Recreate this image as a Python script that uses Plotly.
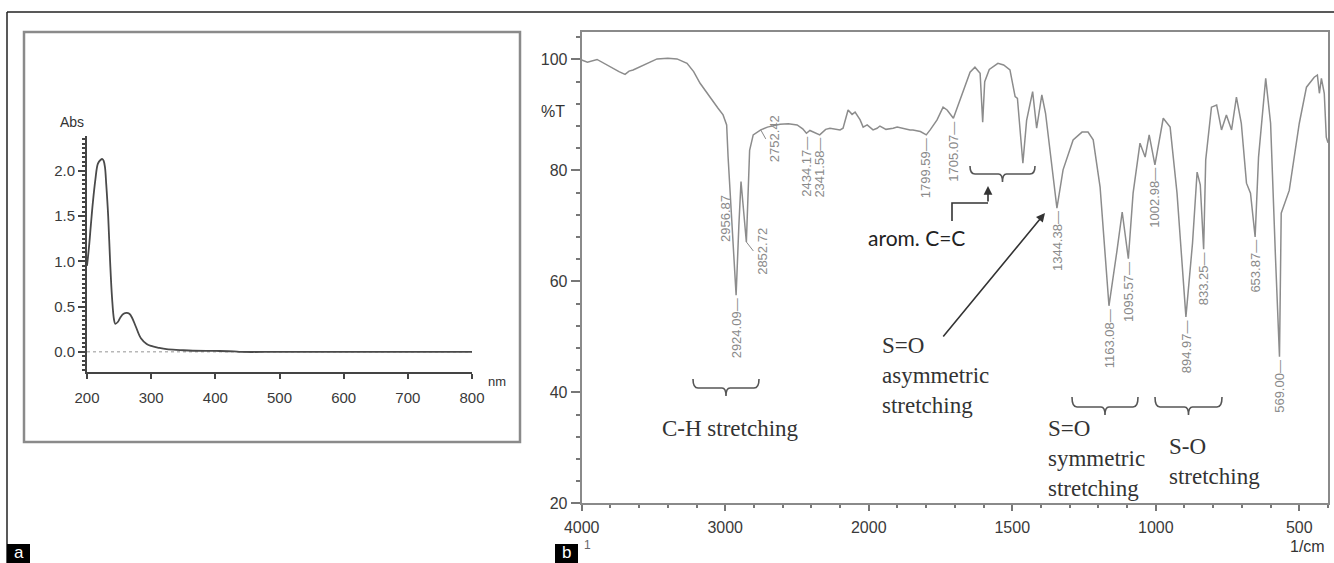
import numpy as np
import plotly.graph_objects as go

W, H = 1334, 563

# ---------------- UV-Vis spectrum (panel a) ----------------
uv_nm = [200, 203, 206, 209, 213, 217, 221, 224, 226, 228, 230, 233, 236, 239, 242,
         244, 248, 252, 257, 262, 266, 270, 276, 284, 293, 300, 312, 324, 345,
         365, 400, 429, 440, 500, 600, 700, 800]
uv_abs = [0.95, 1.15, 1.40, 1.64, 1.90, 2.08, 2.12, 2.13, 2.11, 2.04, 1.85, 1.50, 1.00, 0.60, 0.36,
          0.31, 0.33, 0.38, 0.42, 0.43, 0.42, 0.38, 0.28, 0.15, 0.087, 0.065, 0.045, 0.03, 0.02,
          0.012, 0.01, 0.006, 0.0, 0.0, 0.0, 0.0, 0.0]

# ---------------- FT-IR spectrum (panel b) ----------------
ir_wn = [4000, 3960, 3893, 3840, 3782, 3740, 3698, 3670, 3642, 3600, 3545, 3475, 3400, 3336,
         3266, 3220, 3175, 3130, 3085, 3050, 3015, 2990, 2980, 2966, 2956.87, 2945, 2924.09,
         2905, 2890, 2852.72, 2838, 2830, 2805, 2778, 2752.42, 2706, 2618, 2560, 2499, 2460,
         2434.17, 2410, 2388, 2341.58, 2300, 2270, 2200, 2179, 2144, 2116, 2095, 2060, 2039,
         2011, 1985, 1971, 1961, 1940, 1915, 1901, 1856, 1846, 1820, 1799.59, 1786, 1762, 1741,
         1727, 1705.07, 1682, 1647, 1630, 1612, 1603, 1596, 1580, 1550, 1530, 1508, 1490, 1482,
         1463, 1450, 1429, 1415, 1397, 1384, 1344.38, 1323, 1288, 1257, 1236, 1218, 1194,
         1163.08, 1135, 1117, 1095.57, 1079, 1055, 1037, 1023, 1002.98, 974, 950, 926, 894.97,
         872, 856, 845, 833.25, 826, 806, 788, 771, 754, 736, 719, 702, 684, 670, 653.87, 642,
         617, 600, 583, 569.00, 563, 535, 500, 475, 448, 437, 430, 423, 413, 406, 400]
ir_T = [99.9, 99.5, 100.0, 99.2, 98.4, 97.8, 97.3, 97.9, 98.1, 98.6, 99.3, 100.1, 100.2, 100.1,
        99.3, 97.8, 95.7, 94.0, 92.3, 91.2, 90.0, 88.2, 82.4, 75.9, 72.5, 66.0, 57.5,
        70.0, 78.0, 67.1, 78.0, 83.6, 86.4, 86.8, 87.3, 87.8, 88.3, 88.4, 88.2, 87.5,
        86.7, 87.2, 86.9, 86.4, 87.4, 87.6, 87.3, 87.6, 90.9, 90.1, 90.5, 89.1, 87.8,
        88.2, 87.3, 87.6, 88.0, 87.4, 87.6, 87.8, 87.3, 87.3, 87.0, 86.4, 87.3, 89.1, 91.4,
        90.9, 89.4, 92.7, 97.7, 98.6, 97.5, 88.7, 96.0, 98.2, 99.3, 99.0, 98.1, 93.3, 93.0,
        81.3, 89.0, 94.2, 87.6, 93.6, 90.3, 73.2, 80.1, 85.5, 86.9, 86.9, 85.5, 77.0,
        55.6, 65.6, 72.5, 64.1, 75.9, 84.9, 82.4, 86.4, 81.0, 89.4, 87.8, 75.9, 53.6,
        66.9, 79.7, 77.4, 65.8, 81.9, 91.4, 91.8, 87.3, 90.0, 87.3, 93.2, 88.5, 77.7, 75.9, 68.0, 82.4,
        96.6, 88.5, 64.4, 46.4, 72.3, 76.4, 88.5, 95.0, 96.8, 97.2, 93.9, 96.6, 93.9, 86.0, 85.0]

# labelled band positions (1/cm)
peak_wn = [2956.87, 2924.09, 2852.72, 2752.42, 2434.17, 2341.58, 1799.59, 1705.07,
           1344.38, 1163.08, 1095.57, 1002.98, 894.97, 833.25, 653.87, 569.00]

ir_x_ticks = [4000, 3000, 2000, 1500, 1000, 500]


def to_axis(wn):
    """Split-scale wavenumber axis: the 4000-2000 region is drawn at half scale."""
    wn = np.asarray(wn, dtype=float)
    return np.where(wn > 2000, 2000 + (wn - 2000) / 2.0, wn)


def P(x, y):
    """Pixel position on the page -> paper coordinates."""
    return x / W, 1 - y / H


fig = go.Figure()

# panel a curve
fig.add_trace(go.Scatter(x=[200, 800], y=[0, 0], mode="lines",
                         line=dict(color="#b8b8b8", width=1.5, dash="dot"),
                         xaxis="x", yaxis="y", hoverinfo="skip", showlegend=False))
fig.add_trace(go.Scatter(x=uv_nm, y=uv_abs, mode="lines", line_shape="spline",
                         line=dict(color="#4a4a4a", width=1.8),
                         xaxis="x", yaxis="y", showlegend=False))

# panel b curve
fig.add_trace(go.Scatter(x=to_axis(ir_wn), y=ir_T, mode="lines",
                         line=dict(color="#8c8c8c", width=1.5),
                         xaxis="x2", yaxis="y2", showlegend=False))

tick_font = dict(family="Liberation Sans, Arial", size=15, color="#3a3a3a")
tick_font2 = dict(family="Liberation Sans, Arial", size=16, color="#3a3a3a")

fig.update_layout(
    width=W, height=H,
    margin=dict(l=0, r=0, t=0, b=0),
    paper_bgcolor="white", plot_bgcolor="white",
    xaxis=dict(domain=[87 / W, 472 / W], range=[200, 800], anchor="y", automargin=False,
               tickmode="linear", tick0=200, dtick=100, ticks="outside", ticklen=5,
               tickwidth=1.5, tickcolor="#444", showline=True, linecolor="#444", linewidth=2,
               ticklabelstandoff=6,
               showgrid=False, zeroline=False, tickfont=tick_font),
    yaxis=dict(domain=[1 - 371.5 / H, 1 - 136.4 / H], range=[-0.217, 2.38], anchor="x",
               automargin=False,
               tickmode="array", tickvals=[0, 0.5, 1.0, 1.5, 2.0],
               ticktext=["0.0", "0.5", "1.0", "1.5", "2.0"],
               ticks="outside", ticklen=7, tickwidth=1.5, tickcolor="#444",
               minor=dict(dtick=0.05, tick0=0, ticklen=3, tickcolor="#444", ticks="outside"),
               showline=True, linecolor="#444", linewidth=2,
               showgrid=False, zeroline=False, tickfont=tick_font),
    xaxis2=dict(domain=[581.7 / W, 1328 / W], range=[3000, 400], anchor="y2", automargin=False,
                tickmode="array", tickvals=list(to_axis(ir_x_ticks)),
                ticktext=[str(v) for v in ir_x_ticks],
                ticks="outside", ticklen=6, tickwidth=1.5, tickcolor="#777",
                minor=dict(dtick=100, tick0=0, ticklen=3, tickcolor="#777", ticks="outside"),
                showline=True, mirror=True, linecolor="#8a8a8a", linewidth=2,
                ticklabelstandoff=2,
                showgrid=False, zeroline=False, tickfont=tick_font2),
    yaxis2=dict(domain=[1 - 503.3 / H, 1 - 31.7 / H], range=[20, 105], anchor="x2",
                automargin=False,
                tickmode="array", tickvals=[20, 40, 60, 80, 100],
                ticks="outside", ticklen=9, tickwidth=1.5, tickcolor="#777",
                minor=dict(dtick=4, tick0=0, ticklen=4, tickcolor="#777", ticks="outside"),
                showline=True, mirror=True, linecolor="#8a8a8a", linewidth=2,
                showgrid=False, zeroline=False, tickfont=tick_font2),
)

shapes = []
annotations = []

# outer frame (top and left rules)
x0, y0 = P(7, 12)
x1, _ = P(1334, 12)
_, y1 = P(7, 563)
shapes.append(dict(type="line", xref="paper", yref="paper", x0=x0, y0=y0, x1=x1, y1=y0,
                   line=dict(color="#222", width=1.5)))
shapes.append(dict(type="line", xref="paper", yref="paper", x0=x0, y0=y0, x1=x0, y1=y1,
                   line=dict(color="#222", width=1.5)))

# panel a box
bx0, by0 = P(24, 32)
bx1, by1 = P(520, 442)
shapes.append(dict(type="rect", xref="paper", yref="paper", x0=bx0, y0=by1, x1=bx1, y1=by0,
                   line=dict(color="#8a8a8a", width=2.5)))


def bracket(xa, xb, ytop, ybot, ystub):
    xc = (xa + xb) / 2

    def f(x, y):
        px, py = P(x, y)
        return f"{px:.5f},{py:.5f}"
    path = (f"M {f(xa, ytop)} Q {f(xa, ybot)} {f(xa + 5, ybot)} L {f(xc - 4, ybot)} "
            f"Q {f(xc, ybot)} {f(xc, ystub)} Q {f(xc, ybot)} {f(xc + 4, ybot)} "
            f"L {f(xb - 5, ybot)} Q {f(xb, ybot)} {f(xb, ytop)}")
    return dict(type="path", xref="paper", yref="paper", path=path,
                line=dict(color="#555", width=1.6))


shapes.append(bracket(693, 759, 379, 388, 396))     # C-H
shapes.append(bracket(970, 1035, 166, 174, 182))    # aromatic C=C
shapes.append(bracket(1072, 1138, 397, 407, 415))   # S=O sym
shapes.append(bracket(1155, 1222, 397, 407, 415))   # S-O

# elbow arrow for arom. C=C
ex0, ey0 = P(952, 221)
ex1, ey1 = P(952, 203)
ex2, ey2 = P(988, 203)
shapes.append(dict(type="path", xref="paper", yref="paper",
                   path=f"M {ex0:.5f},{ey0:.5f} L {ex1:.5f},{ey1:.5f} L {ex2:.5f},{ey2:.5f}",
                   line=dict(color="#333", width=1.6)))
hx, hy = P(988, 186)
annotations.append(dict(xref="paper", yref="paper", x=hx, y=hy, ax=0, ay=17, text="",
                        showarrow=True, arrowhead=2, arrowsize=1.1, arrowwidth=1.6,
                        arrowcolor="#333"))

# S=O asymmetric arrow
hx, hy = P(1045, 213)
annotations.append(dict(xref="paper", yref="paper", x=hx, y=hy, ax=-103, ay=125, text="",
                        showarrow=True, arrowhead=2, arrowsize=1.1, arrowwidth=1.6,
                        arrowcolor="#333"))

# "a" / "b" panel tags
for tag, xa, xb in [("a", 7, 30), ("b", 555, 578)]:
    tx0, ty0 = P(xa, 544)
    tx1, ty1 = P(xb, 563)
    shapes.append(dict(type="rect", xref="paper", yref="paper", x0=tx0, y0=ty1, x1=tx1, y1=ty0,
                       fillcolor="black", line=dict(width=0)))
    cx, cy = P((xa + xb) / 2, 552)
    annotations.append(dict(xref="paper", yref="paper", x=cx, y=cy, text=tag, showarrow=False,
                            font=dict(family="Liberation Sans, Arial", size=17, color="white"),
                            xanchor="center", yanchor="middle"))


def text_at(x, y, text, size, family="Liberation Sans, Arial", color="#333",
            xanchor="center", yanchor="middle", align="center"):
    px, py = P(x, y)
    annotations.append(dict(xref="paper", yref="paper", x=px, y=py, text=text,
                            showarrow=False, xanchor=xanchor, yanchor=yanchor, align=align,
                            font=dict(family=family, size=size, color=color)))


serif = "Liberation Serif, Times New Roman"
text_at(72, 122, "Abs", 14)
text_at(497, 381, "nm", 13)
text_at(553, 111, "%T", 16)
text_at(1307, 546, "1/cm", 16)
text_at(587, 545, "1", 12, color="#666")
text_at(730, 428, "C-H stretching", 23, family=serif, color="#333")
text_at(880, 375, "S=O<br>asymmetric<br>stretching", 23, family=serif, color="#333",
        xanchor="left", align="left")
text_at(1046, 458, "S=O<br>symmetric<br>stretching", 23, family=serif, color="#333",
        xanchor="left", align="left")
text_at(1167, 461, "S-O<br>stretching", 23, family=serif, color="#333",
        xanchor="left", align="left")
text_at(916, 237, "arom. C=C", 21, family="Lato, Open Sans", color="#222")

# band labels, written below each minimum
T_of = dict(zip(ir_wn, ir_T))
offset_labels = {2956.87: (-16, 6), 2852.72: (7, 9), 2752.42: (5, 9)}
for wn in peak_wn:
    xv = float(to_axis(wn))
    yv = T_of[wn]
    lab = f"{wn:.2f}"
    if wn in offset_labels:
        ax, ay = offset_labels[wn]
        annotations.append(dict(xref="x2", yref="y2", x=xv, y=yv, text=lab, textangle=-90,
                                showarrow=True, arrowhead=0, arrowwidth=1, arrowcolor="#888",
                                ax=ax, ay=ay, xanchor="center", yanchor="top",
                                font=dict(family="Liberation Sans, Arial", size=13,
                                          color="#8a8a8a")))
    else:
        annotations.append(dict(xref="x2", yref="y2", x=xv, y=yv, text=lab + "—",
                                textangle=-90, showarrow=False, xanchor="center",
                                yanchor="top", yshift=-1,
                                font=dict(family="Liberation Sans, Arial", size=13,
                                          color="#8a8a8a")))

fig.update_layout(shapes=shapes, annotations=annotations)
fig.write_html("out.html")
